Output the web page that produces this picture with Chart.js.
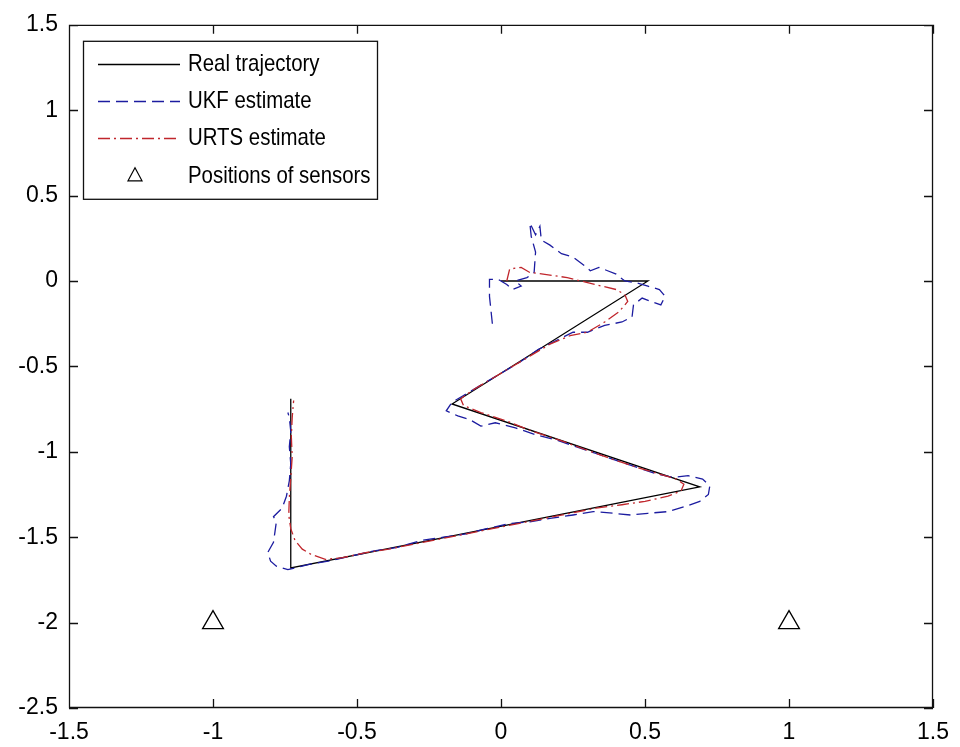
<!DOCTYPE html>
<html>
<head>
<meta charset="utf-8">
<script src="https://cdn.jsdelivr.net/npm/chart.js@4.4.1/dist/chart.umd.min.js"></script>
<style>
  html, body { margin: 0; padding: 0; background: #fff; }
  canvas { display: block; }
</style>
</head>
<body>
<canvas id="c" width="960" height="747"></canvas>
<script>
// Axis ticks
const xTicks = [-1.5, -1, -0.5, 0, 0.5, 1, 1.5];
const yTicks = [-2.5, -2, -1.5, -1, -0.5, 0, 0.5, 1, 1.5];

// Series names (legend order)
const seriesNames = ['Real trajectory', 'UKF estimate', 'URTS estimate', 'Positions of sensors'];

// True path of the target
const realX = [0.00, 0.51, -0.17, 0.69, -0.73, -0.73];
const realY = [0.00, 0.00, -0.72, -1.205, -1.68, -0.69];

// Unscented Kalman filter estimate
const ukfX = [-0.03, -0.035, -0.04, -0.04, -0.01, 0.02, 0.04, 0.07, 0.05, 0.09,
  0.115, 0.12, 0.105, 0.10, 0.12, 0.135, 0.14, 0.17, 0.21, 0.25,
  0.29, 0.31, 0.34, 0.37, 0.40, 0.43, 0.47, 0.51, 0.55, 0.57,
  0.555, 0.52, 0.49, 0.46, 0.455, 0.42, 0.36, 0.30, 0.25, 0.19,
  0.13, 0.07, 0.02, -0.03, -0.08, -0.13, -0.17, -0.19, -0.15, -0.11,
  -0.07, -0.02, 0.05, 0.12, 0.19, 0.26, 0.33, 0.40, 0.47, 0.54,
  0.60, 0.65, 0.70, 0.725, 0.72, 0.69, 0.64, 0.58, 0.51, 0.45,
  0.39, 0.32, 0.25, 0.17, 0.10, 0.03, -0.05, -0.12, -0.20, -0.28,
  -0.36, -0.44, -0.52, -0.60, -0.67, -0.74, -0.78, -0.80, -0.81, -0.79,
  -0.785, -0.78, -0.79, -0.76, -0.745, -0.735, -0.73, -0.735, -0.73, -0.735,
  -0.74];
const ukfY = [-0.25, -0.17, -0.09, 0.01, 0.01, -0.02, -0.05, -0.03, 0.00, 0.02,
  0.05, 0.17, 0.26, 0.34, 0.27, 0.32, 0.24, 0.21, 0.16, 0.14,
  0.09, 0.06, 0.08, 0.06, 0.04, 0.00, -0.01, -0.03, -0.05, -0.09,
  -0.14, -0.12, -0.10, -0.14, -0.21, -0.24, -0.26, -0.30, -0.30, -0.35,
  -0.40, -0.47, -0.52, -0.57, -0.62, -0.67, -0.71, -0.76, -0.79, -0.81,
  -0.85, -0.83, -0.86, -0.90, -0.93, -0.97, -1.01, -1.05, -1.09, -1.13,
  -1.15, -1.14, -1.16, -1.20, -1.25, -1.29, -1.32, -1.35, -1.36, -1.37,
  -1.36, -1.35, -1.37, -1.39, -1.41, -1.42, -1.45, -1.48, -1.50, -1.52,
  -1.56, -1.58, -1.61, -1.64, -1.66, -1.69, -1.67, -1.64, -1.59, -1.53,
  -1.47, -1.41, -1.38, -1.33, -1.26, -1.17, -1.07, -0.97, -0.88, -0.80,
  -0.77];

// Unscented Rauch-Tung-Striebel smoother estimate
const urtsX = [0.02, 0.03, 0.07, 0.10, 0.17, 0.23, 0.29, 0.35, 0.40, 0.43,
  0.44, 0.41, 0.36, 0.30, 0.24, 0.17, 0.10, 0.03, -0.04, -0.10,
  -0.14, -0.13, -0.07, 0.02, 0.11, 0.20, 0.29, 0.38, 0.47, 0.55,
  0.61, 0.635, 0.625, 0.58, 0.50, 0.42, 0.33, 0.24, 0.15, 0.06,
  -0.03, -0.12, -0.21, -0.30, -0.39, -0.47, -0.55, -0.61, -0.66, -0.69,
  -0.715, -0.73, -0.737, -0.735, -0.73, -0.725, -0.728, -0.725, -0.72];
const urtsY = [0.00, 0.07, 0.08, 0.05, 0.035, 0.02, -0.005, -0.03, -0.05, -0.08,
  -0.12, -0.18, -0.24, -0.30, -0.32, -0.37, -0.44, -0.51, -0.58, -0.64,
  -0.69, -0.73, -0.77, -0.82, -0.88, -0.93, -0.985, -1.04, -1.09, -1.13,
  -1.16, -1.19, -1.23, -1.26, -1.29, -1.31, -1.33, -1.36, -1.39, -1.42,
  -1.45, -1.48, -1.51, -1.54, -1.57, -1.59, -1.62, -1.63, -1.60, -1.57,
  -1.52, -1.45, -1.37, -1.27, -1.15, -1.03, -0.91, -0.80, -0.70];

// Sensor locations
const sensorX = [-1, 1];
const sensorY = [-2, -2];

const FONT = "'Liberation Sans', Arial, sans-serif";
const BLUE = '#1c1ca0';
const RED = '#c0262c';
const DASH = [12, 6];
const DASHDOT = [12, 4, 2, 4];

const pts = (xs, ys) => xs.map((x, i) => ({ x: x, y: ys[i] }));

// Box around the axes with inward tick marks on all four sides
const framePlugin = {
  id: 'frame',
  afterDatasetsDraw(chart) {
    const { ctx, chartArea: a, scales } = chart;
    const L = 9;
    ctx.save();
    ctx.strokeStyle = '#111';
    ctx.lineWidth = 1.3;
    ctx.setLineDash([]);
    ctx.beginPath();
    ctx.rect(a.left + 0.5, a.top + 0.5, a.right - a.left - 1, a.bottom - a.top - 1);
    xTicks.forEach(v => {
      const p = Math.round(scales.x.getPixelForValue(v)) + 0.5;
      ctx.moveTo(p, a.bottom); ctx.lineTo(p, a.bottom - L);
      ctx.moveTo(p, a.top); ctx.lineTo(p, a.top + L);
    });
    yTicks.forEach(v => {
      const p = Math.round(scales.y.getPixelForValue(v)) + 0.5;
      ctx.moveTo(a.left, p); ctx.lineTo(a.left + L, p);
      ctx.moveTo(a.right, p); ctx.lineTo(a.right - L, p);
    });
    ctx.stroke();
    ctx.restore();
  }
};

// Legend box in the upper-left corner of the axes
const legendPlugin = {
  id: 'boxLegend',
  afterDraw(chart) {
    const { ctx, chartArea: a } = chart;
    const bx = a.left + 14, by = a.top + 16, bw = 295, bh = 159;
    const rows = [23, 60, 97, 135];
    ctx.save();
    ctx.fillStyle = '#fff';
    ctx.fillRect(bx, by, bw, bh);
    ctx.strokeStyle = '#111';
    ctx.lineWidth = 1.3;
    ctx.strokeRect(bx + 0.5, by + 0.5, bw - 1, bh - 1);

    const styles = [
      { color: '#000', dash: [] },
      { color: BLUE, dash: DASH },
      { color: RED, dash: DASHDOT }
    ];
    styles.forEach((s, i) => {
      const yy = Math.round(by + rows[i]) + 0.5;
      ctx.strokeStyle = s.color;
      ctx.lineWidth = 1.3;
      ctx.setLineDash(s.dash);
      ctx.beginPath();
      ctx.moveTo(bx + 15, yy);
      ctx.lineTo(bx + 97, yy);
      ctx.stroke();
    });
    ctx.setLineDash([]);
    // triangle sample
    const tx = bx + 52, ty = by + rows[3];
    ctx.strokeStyle = '#000';
    ctx.lineWidth = 1.2;
    ctx.beginPath();
    ctx.moveTo(tx, ty - 8);
    ctx.lineTo(tx + 7, ty + 5);
    ctx.lineTo(tx - 7, ty + 5);
    ctx.closePath();
    ctx.stroke();

    // labels, slightly condensed horizontally
    ctx.fillStyle = '#000';
    ctx.font = '24px ' + FONT;
    ctx.textBaseline = 'middle';
    ctx.textAlign = 'left';
    const sx = 0.85;
    seriesNames.forEach((n, i) => {
      ctx.save();
      ctx.translate(bx + 105, by + rows[i] + 1);
      ctx.scale(sx, 1);
      ctx.fillText(n, 0, 0);
      ctx.restore();
    });
    ctx.restore();
  }
};

const tickFont = { family: FONT, size: 23 };

new Chart(document.getElementById('c'), {
  type: 'scatter',
  data: {
    datasets: [
      {
        label: seriesNames[0], data: pts(realX, realY), showLine: true,
        borderColor: '#000', borderWidth: 1.3, pointRadius: 0, order: 3
      },
      {
        label: seriesNames[1], data: pts(ukfX, ukfY), showLine: true,
        borderColor: BLUE, borderWidth: 1.3, borderDash: DASH, pointRadius: 0, order: 2
      },
      {
        label: seriesNames[2], data: pts(urtsX, urtsY), showLine: true,
        borderColor: RED, borderWidth: 1.3, borderDash: DASHDOT, pointRadius: 0, order: 1
      },
      {
        label: seriesNames[3], data: pts(sensorX, sensorY), showLine: false,
        pointStyle: 'triangle', pointRadius: 12, pointBorderWidth: 1.3,
        pointBorderColor: '#000', pointBackgroundColor: 'rgba(0,0,0,0)', order: 0
      }
    ]
  },
  options: {
    responsive: false,
    devicePixelRatio: 1,
    animation: false,
    layout: { padding: { top: 24, right: 22, left: 0, bottom: 0 } },
    plugins: { legend: { display: false }, tooltip: { enabled: false } },
    scales: {
      x: {
        type: 'linear', position: 'bottom', min: -1.5, max: 1.5,
        afterBuildTicks: s => { s.ticks = xTicks.map(v => ({ value: v })); },
        afterFit: s => { s.height = 39; },
        grid: { display: false, drawTicks: false },
        border: { display: false },
        ticks: {
          font: tickFont, color: '#000', padding: 11, autoSkip: false,
          maxRotation: 0, callback: v => String(v)
        }
      },
      y: {
        type: 'linear', position: 'left', min: -2.5, max: 1.5,
        afterBuildTicks: s => { s.ticks = yTicks.map(v => ({ value: v })); },
        afterFit: s => { s.width = 69; },
        grid: { display: false, drawTicks: false },
        border: { display: false },
        ticks: {
          font: tickFont, color: '#000', padding: 11, autoSkip: false,
          callback: v => String(v)
        }
      }
    }
  },
  plugins: [framePlugin, legendPlugin]
});
</script>
</body>
</html>
